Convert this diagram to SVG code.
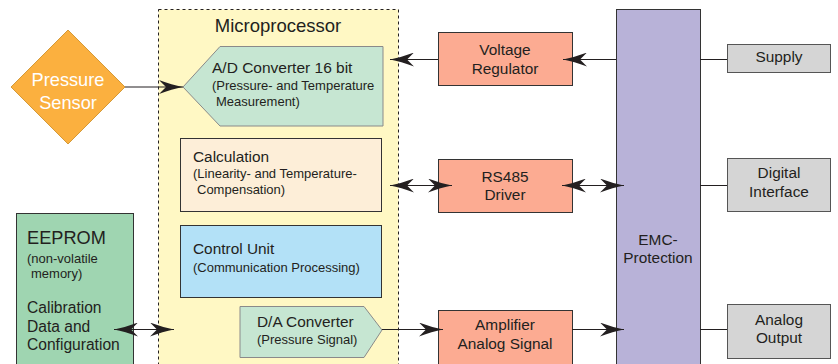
<svg xmlns="http://www.w3.org/2000/svg" width="838" height="364" viewBox="0 0 838 364">
<style>
text{font-family:"Liberation Sans",Arial,sans-serif;fill:#231f20}
.m{font-size:15.4px}
.s{font-size:13px}
.c{text-anchor:middle}
.box{stroke:#333;stroke-width:1}
.ln{stroke:#231f20;stroke-width:1;fill:none}
.gray{fill:#d5d5d5;stroke:#555;stroke-width:1}
.sal{fill:#fcab92;stroke:#333;stroke-width:1}
</style>
<defs>
<marker id="ah" markerUnits="userSpaceOnUse" markerWidth="24" markerHeight="14" viewBox="0 0 24 14" refX="24" refY="7" orient="auto-start-reverse">
<path d="M24,7 Q13,5 0,0 L7,7 L0,14 Q13,9 24,7 Z" fill="#231f20"/>
</marker>
</defs>
<g id="microprocessor">
<rect x="158.5" y="9.5" width="240" height="370" fill="#fff8c4" stroke="#231f20" stroke-dasharray="3,3"/>
<text x="278" y="32" font-size="18.5px" class="c">Microprocessor</text>
</g>
<g id="pressure-sensor">
<polygon points="68,30 125,87 68,144 11,87" fill="#fbb03f" stroke="#c98a20" stroke-width="0.8"/>
<text x="68" y="86" font-size="18.2px" class="c" style="fill:#fff">Pressure</text>
<text x="68" y="109" font-size="18.2px" class="c" style="fill:#fff">Sensor</text>
</g>
<g id="ad-converter">
<polygon points="183,87 220,46.5 383,46.5 383,126 220,126" fill="#c6e6d2" stroke="#8a8a8a" stroke-width="1"/>
<text x="212" y="73" font-size="15.5px">A/D Converter 16 bit</text>
<text x="212" y="90" class="s">(Pressure- and Temperature</text>
<text x="216" y="106" class="s">Measurement)</text>
</g>
<g id="calculation">
<rect x="180.5" y="138.5" width="201" height="73" fill="#fdeed8" class="box"/>
<text x="193" y="162" class="m">Calculation</text>
<text x="193" y="178" class="s">(Linearity- and Temperature-</text>
<text x="197" y="194" class="s">Compensation)</text>
</g>
<g id="control-unit">
<rect x="180.5" y="225.5" width="201" height="72" fill="#b3e1f7" class="box"/>
<text x="193" y="254" class="m">Control Unit</text>
<text x="193" y="272" class="s">(Communication Processing)</text>
</g>
<g id="da-converter">
<polygon points="240,306.5 364,306.5 382,330 364,357.5 240,357.5" fill="#c6e6d2" stroke="#8a8a8a" stroke-width="1"/>
<text x="257" y="327" class="m">D/A Converter</text>
<text x="257" y="344" class="s">(Pressure Signal)</text>
</g>
<g id="eeprom">
<rect x="16.5" y="213.5" width="117" height="170" fill="#9fd5b1" class="box"/>
<text x="27" y="244" font-size="18.2px">EEPROM</text>
<text x="27" y="263" class="s">(non-volatile</text>
<text x="31" y="278" class="s">memory)</text>
<text x="27" y="313" font-size="15.6px">Calibration</text>
<text x="27" y="332" font-size="15.6px">Data and</text>
<text x="27" y="350" font-size="15.6px">Configuration</text>
</g>
<g id="voltage-regulator">
<rect x="438.5" y="32.5" width="134" height="53" class="sal"/>
<text x="505" y="55" class="m c">Voltage</text>
<text x="505" y="74" class="m c">Regulator</text>
</g>
<g id="rs485-driver">
<rect x="438.5" y="159.5" width="134" height="53" class="sal"/>
<text x="505" y="182" class="m c">RS485</text>
<text x="505" y="200" class="m c">Driver</text>
</g>
<g id="amplifier">
<rect x="438.5" y="310.5" width="134" height="70" class="sal"/>
<text x="505" y="330" class="m c">Amplifier</text>
<text x="505" y="349" class="m c">Analog Signal</text>
</g>
<g id="emc-protection">
<rect x="616.5" y="9.5" width="84" height="370" fill="#b8b2d8" class="box"/>
<text x="658" y="245" class="m c">EMC-</text>
<text x="658" y="263" class="m c">Protection</text>
</g>
<g id="supply">
<rect x="727.5" y="44.5" width="103" height="28" class="gray"/>
<text x="779" y="62" class="m c">Supply</text>
</g>
<g id="digital-interface">
<rect x="727.5" y="158.5" width="103" height="53" class="gray"/>
<text x="779" y="178" class="m c">Digital</text>
<text x="779" y="197" class="m c">Interface</text>
</g>
<g id="analog-output">
<rect x="727.5" y="304.5" width="103" height="54" class="gray"/>
<text x="779" y="325" class="m c">Analog</text>
<text x="779" y="343" class="m c">Output</text>
</g>
<g id="connectors">
<line x1="125" y1="87" x2="183" y2="87" class="ln" marker-end="url(#ah)"/>
<line x1="438" y1="59.5" x2="390" y2="59.5" class="ln" marker-end="url(#ah)"/>
<line x1="616" y1="59.5" x2="563" y2="59.5" class="ln" marker-end="url(#ah)"/>
<line x1="700" y1="59.5" x2="727" y2="59.5" class="ln"/>
<line x1="390" y1="185.5" x2="452" y2="185.5" class="ln" marker-start="url(#ah)" marker-end="url(#ah)"/>
<line x1="562" y1="185.5" x2="624" y2="185.5" class="ln" marker-start="url(#ah)" marker-end="url(#ah)"/>
<line x1="700" y1="185.5" x2="727" y2="185.5" class="ln"/>
<line x1="114" y1="329.5" x2="174" y2="329.5" class="ln" marker-start="url(#ah)" marker-end="url(#ah)"/>
<line x1="382" y1="329.5" x2="443" y2="329.5" class="ln" marker-end="url(#ah)"/>
<line x1="572" y1="329.5" x2="624" y2="329.5" class="ln" marker-end="url(#ah)"/>
<line x1="700" y1="329.5" x2="727" y2="329.5" class="ln"/>
</g>
</svg>
